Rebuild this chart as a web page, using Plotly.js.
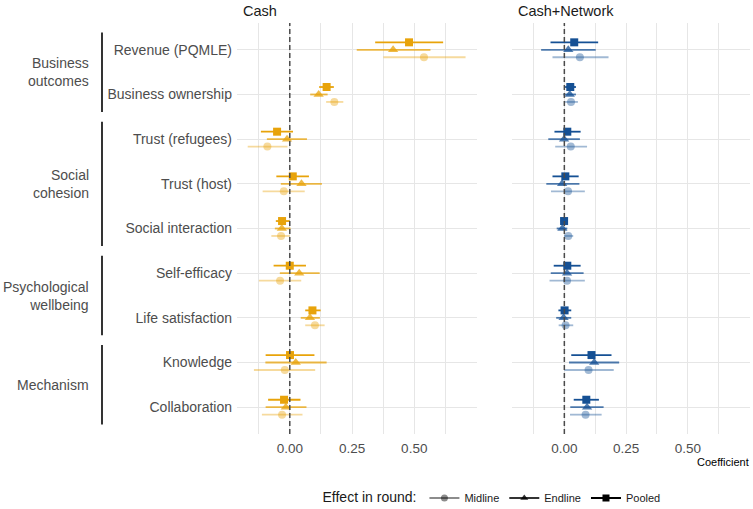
<!DOCTYPE html>
<html>
<head>
<meta charset="utf-8">
<script src="https://cdn.plot.ly/plotly-3.0.1.min.js"></script>
<style>html,body{margin:0;padding:0;background:#fff;}#chart{width:753px;height:509px;}</style>
</head>
<body>
<div id="chart"></div>
<script>
// ---- Data ----
const categories = ["Revenue (PQMLE)", "Business ownership", "Trust (refugees)", "Trust (host)",
  "Social interaction", "Self-efficacy", "Life satisfaction", "Knowledge", "Collaboration"];
const groupNames = ["Business<br>outcomes", "Social<br>cohesion", "Psychological<br>wellbeing", "Mechanism"];
const groupFirst = [0, 2, 5, 7];
const groupLast = [1, 4, 6, 8];
const panelTitles = ["Cash", "Cash+Network"];
const rounds = ["Midline", "Endline", "Pooled"];
const xTickVals = [0, 0.25, 0.5];
const xTickText = ["0.00", "0.25", "0.50"];

// Cash
const cashPooledEst = [0.479, 0.148, -0.051, 0.012, -0.031, 0.000, 0.091, 0.001, -0.023];
const cashPooledLo  = [0.343, 0.118, -0.116, -0.054, -0.056, -0.065, 0.062, -0.097, -0.087];
const cashPooledHi  = [0.616, 0.177, 0.013, 0.077, 0.000, 0.065, 0.124, 0.099, 0.043];
const cashEndEst = [0.415, 0.116, -0.011, 0.047, -0.032, 0.038, 0.081, 0.024, -0.016];
const cashEndLo  = [0.269, 0.082, -0.092, -0.036, -0.060, -0.040, 0.044, -0.098, -0.097];
const cashEndHi  = [0.565, 0.152, 0.069, 0.129, 0.003, 0.120, 0.121, 0.148, 0.067];
const cashMidEst = [0.539, 0.179, -0.090, -0.024, -0.035, -0.039, 0.101, -0.020, -0.031];
const cashMidLo  = [0.376, 0.146, -0.169, -0.109, -0.074, -0.124, 0.062, -0.144, -0.112];
const cashMidHi  = [0.706, 0.215, -0.009, 0.060, 0.000, 0.046, 0.140, 0.102, 0.051];

// Cash+Network
const netPooledEst = [0.040, 0.024, 0.012, 0.004, -0.001, 0.012, 0.001, 0.110, 0.089];
const netPooledLo  = [-0.056, 0.003, -0.040, -0.048, -0.015, -0.043, -0.024, 0.028, 0.038];
const netPooledHi  = [0.137, 0.047, 0.066, 0.058, 0.010, 0.066, 0.028, 0.191, 0.140];
const netEndEst = [0.016, 0.022, -0.001, -0.009, -0.008, 0.011, -0.003, 0.121, 0.092];
const netEndLo  = [-0.094, -0.004, -0.065, -0.073, -0.031, -0.055, -0.033, 0.019, 0.024];
const netEndHi  = [0.127, 0.047, 0.063, 0.061, 0.012, 0.078, 0.028, 0.222, 0.159];
const netMidEst = [0.063, 0.027, 0.026, 0.015, 0.016, 0.011, 0.005, 0.098, 0.086];
const netMidLo  = [-0.048, 0.003, -0.037, -0.054, 0.000, -0.060, -0.023, 0.000, 0.023];
const netMidHi  = [0.179, 0.055, 0.092, 0.083, 0.036, 0.083, 0.036, 0.200, 0.151];

// ---- Styles ----
const FONT = "Liberation Sans, Arial, Helvetica, sans-serif";
const orange = [232, 163, 10];
const blue = [21, 80, 148];
const alphas = {Midline: 0.4, Endline: 0.75, Pooled: 1};
const symbols = {Midline: "circle", Endline: "triangle-up", Pooled: "square"};
const sizes = {Midline: 8, Endline: 9, Pooled: 8};
const dodge = {Midline: 0.167, Endline: 0, Pooled: -0.167};
const rgba = (c, a) => `rgba(${c[0]},${c[1]},${c[2]},${a})`;

function mk(est, lo, hi, round, col, xa, ya) {
  return {
    type: "scatter", mode: "markers", xaxis: xa, yaxis: ya, showlegend: false,
    x: est,
    y: est.map((_, i) => i + dodge[round]),
    error_x: {type: "data", symmetric: false,
      array: hi.map((h, i) => h - est[i]),
      arrayminus: lo.map((l, i) => est[i] - l),
      color: rgba(col, alphas[round]), thickness: 1.8, width: 0},
    marker: {symbol: symbols[round], size: sizes[round], color: rgba(col, alphas[round]), line: {width: 0}},
    hoverinfo: "x+y"
  };
}

const traces = [
  mk(cashMidEst, cashMidLo, cashMidHi, "Midline", orange, "x", "y"),
  mk(cashEndEst, cashEndLo, cashEndHi, "Endline", orange, "x", "y"),
  mk(cashPooledEst, cashPooledLo, cashPooledHi, "Pooled", orange, "x", "y"),
  mk(netMidEst, netMidLo, netMidHi, "Midline", blue, "x2", "y2"),
  mk(netEndEst, netEndLo, netEndHi, "Endline", blue, "x2", "y2"),
  mk(netPooledEst, netPooledLo, netPooledHi, "Pooled", blue, "x2", "y2"),
];
// legend entries (points placed outside the visible range)
rounds.forEach(r => {
  const g = r === "Midline" ? 0.45 : (r === "Endline" ? 0.8 : 1);
  traces.push({
    type: "scatter", mode: "lines+markers", x: [-5], y: [0], xaxis: "x", yaxis: "y",
    name: r, showlegend: true, hoverinfo: "skip",
    line: {color: `rgba(0,0,0,${g})`, width: 2},
    marker: {symbol: symbols[r], size: 7, color: `rgba(0,0,0,${g})`}
  });
});

// geometry (pixels)
const W = 753, H = 509, L = 237, R = 3, T = 23, B = 5;
const plotTop = 23, plotBottom = 434;
const pw = W - L - R, ph = H - T - B;
const px2paperX = p => (p - L) / pw;
const px2paperY = p => (H - B - p) / ph;
const xRange = [-0.212, 0.752];
const yRange = [8.6, -0.6];
const cat2px = v => plotTop + (v - yRange[1]) / (yRange[0] - yRange[1]) * (plotBottom - plotTop);

const xCommon = {
  range: xRange, tickvals: xTickVals, ticktext: xTickText,
  showgrid: true, gridcolor: "#e6e6e6", gridwidth: 1, zeroline: false, showline: false,
  ticks: "", tickfont: {family: FONT, size: 13.5, color: "#4d4d4d"}, ticklabelstandoff: 4,
  minor: {tickvals: [-0.125, 0.125, 0.375, 0.625], showgrid: true, gridcolor: "#e6e6e6", gridwidth: 1},
  fixedrange: true, automargin: false
};
const yDomain = [px2paperY(plotBottom), px2paperY(plotTop)];
const yCommon = {
  range: yRange, domain: yDomain, tickvals: categories.map((_, i) => i), ticktext: categories,
  showgrid: true, gridcolor: "#e6e6e6", gridwidth: 1, zeroline: false, showline: false, ticks: "",
  fixedrange: true, automargin: false
};

const shapes = [];
["x", "x2"].forEach(xr => {
  shapes.push({type: "line", xref: xr, yref: "paper",
    x0: 0, x1: 0, y0: yDomain[0], y1: yDomain[1], layer: "above",
    line: {color: "#4a4a4a", width: 1.5, dash: "5px,3px"}});
});
const annotations = [];
groupNames.forEach((g, k) => {
  shapes.push({type: "line", xref: "paper", yref: "paper",
    x0: px2paperX(102), x1: px2paperX(102),
    y0: px2paperY(cat2px(groupFirst[k] - 0.39)), y1: px2paperY(cat2px(groupLast[k] + 0.39)),
    line: {color: "#000", width: 1.6}});
  annotations.push({xref: "paper", yref: "paper", x: px2paperX(91),
    y: px2paperY(cat2px((groupFirst[k] + groupLast[k]) / 2)),
    xanchor: "right", yanchor: "middle", align: "right", showarrow: false, text: g,
    font: {family: FONT, size: 14, color: "#4d4d4d"}});
});
panelTitles.forEach((t, k) => {
  annotations.push({xref: (k === 0 ? "x" : "x2") + " domain", yref: "paper", x: 0, y: yDomain[1],
    xshift: 4, yshift: 2, xanchor: "left", yanchor: "bottom", showarrow: false, text: t,
    font: {family: FONT, size: 14.5, color: "#1a1a1a"}});
});
annotations.push({xref: "paper", yref: "paper", x: 1, y: px2paperY(462),
  xanchor: "right", yanchor: "middle", showarrow: false, text: "Coefficient", xshift: 1,
  font: {family: FONT, size: 11, color: "#000"}});

const layout = {
  width: W, height: H, margin: {l: L, r: R, t: T, b: B, autoexpand: false},
  paper_bgcolor: "#fff", plot_bgcolor: "#fff",
  font: {family: FONT, color: "#4d4d4d"},
  xaxis: Object.assign({}, xCommon, {domain: [0, px2paperX(477)], anchor: "y"}),
  xaxis2: Object.assign({}, xCommon, {domain: [px2paperX(512), 1], anchor: "y2"}),
  yaxis: Object.assign({}, yCommon, {anchor: "x", showticklabels: true,
    tickfont: {family: FONT, size: 14, color: "#4d4d4d"}, ticklabelstandoff: 4}),
  yaxis2: Object.assign({}, yCommon, {anchor: "x2", showticklabels: false}),
  showlegend: true,
  legend: {orientation: "h", xref: "container", yref: "container", x: 493 / W, xanchor: "center",
    y: 1 - 498 / H, yanchor: "middle",
    title: {text: "Effect in round:", side: "left", font: {family: FONT, size: 14, color: "#1a1a1a"}},
    font: {family: FONT, size: 11, color: "#1a1a1a"}, itemwidth: 30, tracegroupgap: 0,
    bgcolor: "rgba(0,0,0,0)"},
  shapes: shapes, annotations: annotations
};

Plotly.newPlot("chart", traces, layout, {displayModeBar: false, staticPlot: true});
</script>
</body>
</html>
